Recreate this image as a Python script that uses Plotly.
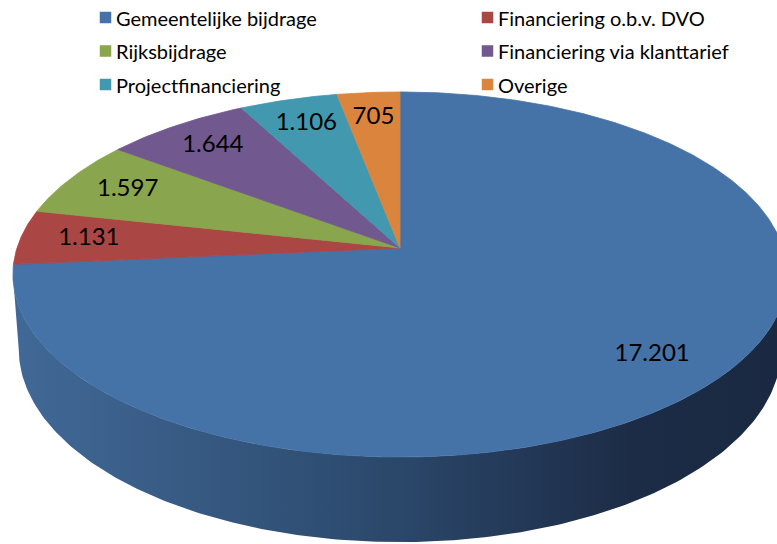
import numpy as np
import plotly.graph_objects as go

# ---- data ----
categories = ["Gemeentelijke bijdrage", "Financiering o.b.v. DVO", "Rijksbijdrage",
              "Financiering via klanttarief", "Projectfinanciering", "Overige"]
values = [17201, 1131, 1597, 1644, 1106, 705]
value_labels = ["17.201", "1.131", "1.597", "1.644", "1.106", "705"]
colors = ["#4572A7", "#AA4643", "#89A54E", "#71588F", "#4198AF", "#DB843D"]

# ---- layout / projection parameters (pixel space) ----
W, Hpx = 777, 544
CX, CY = 400.0, 248.0      # projected pie centre
A, B = 383.0, 178.7        # half-axes of top face
K = 0.1452                 # perspective strength
DEPTH = 72.7               # pie thickness
BOT_SCALE = 0.985          # bottom face slightly smaller
LABEL_R = 0.82
FONT = "Lato"


def proj(theta_deg, r=1.0, h=0.0):
    t = np.radians(theta_deg)
    u = r * np.sin(t)
    v = -r * np.cos(t)
    w = 1.0 / (1.0 - K * v)
    s = 1.0 - (1.0 - BOT_SCALE) * h
    x = CX + A * u * w * s
    y = CY + (B * v + DEPTH * h) * w
    return x, y


total = float(sum(values))
angles = np.concatenate([[0.0], np.cumsum(values) / total * 360.0])

fig = go.Figure()

# ---- side wall (front, visible part) ----
th_a = np.degrees(np.arccos(-K))
th_b = 360.0 - th_a
ts = np.linspace(th_a, th_b, 200)
xt, yt = proj(ts, 1.0, 0.0)
xb, yb = proj(ts[::-1], 1.0, 1.0)
fig.add_trace(go.Scatter(
    x=np.concatenate([xt, xb, xt[:1]]), y=np.concatenate([yt, yb, yt[:1]]),
    mode="lines", fill="toself", line=dict(width=0, color="#2D4B70"),
    fillgradient=dict(type="horizontal",
                      colorscale=[[0, "#416997"], [0.45, "#2D4B6F"], [0.8, "#1C2C46"], [1, "#1A2941"]],
                      start=13, stop=787),
    hoverinfo="skip", showlegend=False))

# ---- top face slices ----
for i, (cat, col) in enumerate(zip(categories, colors)):
    a0, a1 = angles[i], angles[i + 1]
    n = max(8, int((a1 - a0) * 2))
    ts = np.linspace(a0, a1, n)
    xs, ys = proj(ts)
    x = np.concatenate([[CX], xs, [CX]])
    y = np.concatenate([[CY], ys, [CY]])
    fig.add_trace(go.Scatter(x=x, y=y, mode="lines", fill="toself", fillcolor=col,
                             line=dict(width=0.8, color=col), hoverinfo="skip",
                             showlegend=False, name=cat))

# ---- data labels ----
mids = (angles[:-1] + angles[1:]) / 2.0
lx, ly = proj(mids, LABEL_R)
fig.add_trace(go.Scatter(x=lx, y=ly, mode="text", text=value_labels,
                         textfont=dict(family=FONT, size=24, color="#000000"),
                         hoverinfo="skip", showlegend=False))

# ---- legend (two columns) ----
col_x = [105.5, 487.5]
row_y = [17.5, 51.0, 84.5]
for i, (cat, col) in enumerate(zip(categories, colors)):
    mx = col_x[i % 2]
    my = row_y[i // 2]
    fig.add_trace(go.Scatter(x=[mx], y=[my], mode="markers",
                             marker=dict(symbol="square", size=11.5, color=col),
                             hoverinfo="skip", showlegend=False))
    fig.add_annotation(x=mx + 8.5, y=my, text=cat, showarrow=False, xanchor="left",
                       yanchor="middle", font=dict(family=FONT, size=20, color="#000000"))

fig.update_layout(
    width=W, height=Hpx, margin=dict(l=0, r=0, t=0, b=0),
    paper_bgcolor="white", plot_bgcolor="white",
    xaxis=dict(range=[0, W], visible=False, fixedrange=True),
    yaxis=dict(range=[Hpx, 0], visible=False, fixedrange=True),
    hovermode=False, showlegend=False,
)

fig.write_html("out.html", config={"displayModeBar": False},
               post_script="document.body.style.margin='0';document.body.style.overflow='hidden';")
